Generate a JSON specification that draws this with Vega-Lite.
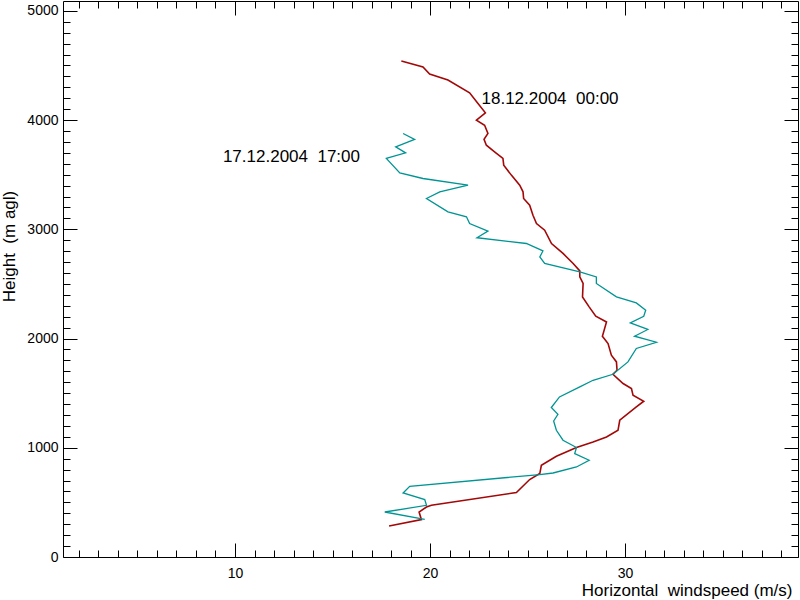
{
  "$schema": "https://vega.github.io/schema/vega-lite/v6.json",
  "width": 735,
  "height": 556,
  "autosize": "none",
  "padding": {"left": 63, "top": 1, "right": 2, "bottom": 43},
  "background": "white",
  "config": {
    "view": {"stroke": "black", "strokeWidth": 1},
    "font": "Liberation Sans",
    "axis": {
      "domain": false,
      "grid": false,
      "tickColor": "black",
      "tickWidth": 1,
      "labelColor": "black",
      "labelFont": "Liberation Sans",
      "labelFontSize": 14,
      "titleFont": "Liberation Sans",
      "titleFontSize": 17,
      "titleFontWeight": "normal",
      "titleColor": "black"
    }
  },
  "datasets": {
    "profiles": [
      {"series": "17.12.2004 17:00", "speed": 19.73, "height": 345},
      {"series": "17.12.2004 17:00", "speed": 17.68, "height": 412},
      {"series": "17.12.2004 17:00", "speed": 19.82, "height": 473},
      {"series": "17.12.2004 17:00", "speed": 19.73, "height": 526},
      {"series": "17.12.2004 17:00", "speed": 18.62, "height": 586},
      {"series": "17.12.2004 17:00", "speed": 18.96, "height": 647},
      {"series": "17.12.2004 17:00", "speed": 25.63, "height": 755},
      {"series": "17.12.2004 17:00", "speed": 26.31, "height": 769},
      {"series": "17.12.2004 17:00", "speed": 27.51, "height": 824},
      {"series": "17.12.2004 17:00", "speed": 28.16, "height": 886},
      {"series": "17.12.2004 17:00", "speed": 27.42, "height": 947},
      {"series": "17.12.2004 17:00", "speed": 27.51, "height": 1002},
      {"series": "17.12.2004 17:00", "speed": 26.82, "height": 1069},
      {"series": "17.12.2004 17:00", "speed": 26.48, "height": 1160},
      {"series": "17.12.2004 17:00", "speed": 26.34, "height": 1245},
      {"series": "17.12.2004 17:00", "speed": 26.56, "height": 1307},
      {"series": "17.12.2004 17:00", "speed": 26.22, "height": 1368},
      {"series": "17.12.2004 17:00", "speed": 26.64, "height": 1465},
      {"series": "17.12.2004 17:00", "speed": 27.68, "height": 1557},
      {"series": "17.12.2004 17:00", "speed": 28.36, "height": 1618},
      {"series": "17.12.2004 17:00", "speed": 29.38, "height": 1673},
      {"series": "17.12.2004 17:00", "speed": 30.15, "height": 1786},
      {"series": "17.12.2004 17:00", "speed": 30.58, "height": 1909},
      {"series": "17.12.2004 17:00", "speed": 31.61, "height": 1966},
      {"series": "17.12.2004 17:00", "speed": 30.49, "height": 2021},
      {"series": "17.12.2004 17:00", "speed": 31.17, "height": 2083},
      {"series": "17.12.2004 17:00", "speed": 30.27, "height": 2143},
      {"series": "17.12.2004 17:00", "speed": 30.96, "height": 2204},
      {"series": "17.12.2004 17:00", "speed": 31.06, "height": 2259},
      {"series": "17.12.2004 17:00", "speed": 30.58, "height": 2326},
      {"series": "17.12.2004 17:00", "speed": 29.56, "height": 2381},
      {"series": "17.12.2004 17:00", "speed": 28.53, "height": 2504},
      {"series": "17.12.2004 17:00", "speed": 28.53, "height": 2564},
      {"series": "17.12.2004 17:00", "speed": 27.68, "height": 2610},
      {"series": "17.12.2004 17:00", "speed": 25.88, "height": 2687},
      {"series": "17.12.2004 17:00", "speed": 25.63, "height": 2747},
      {"series": "17.12.2004 17:00", "speed": 25.79, "height": 2802},
      {"series": "17.12.2004 17:00", "speed": 24.94, "height": 2870},
      {"series": "17.12.2004 17:00", "speed": 22.41, "height": 2923},
      {"series": "17.12.2004 17:00", "speed": 22.97, "height": 2983},
      {"series": "17.12.2004 17:00", "speed": 22.03, "height": 3053},
      {"series": "17.12.2004 17:00", "speed": 21.87, "height": 3114},
      {"series": "17.12.2004 17:00", "speed": 20.92, "height": 3160},
      {"series": "17.12.2004 17:00", "speed": 19.82, "height": 3282},
      {"series": "17.12.2004 17:00", "speed": 20.5, "height": 3343},
      {"series": "17.12.2004 17:00", "speed": 21.95, "height": 3404},
      {"series": "17.12.2004 17:00", "speed": 19.64, "height": 3465},
      {"series": "17.12.2004 17:00", "speed": 18.45, "height": 3517},
      {"series": "17.12.2004 17:00", "speed": 17.76, "height": 3649},
      {"series": "17.12.2004 17:00", "speed": 18.75, "height": 3700},
      {"series": "17.12.2004 17:00", "speed": 18.24, "height": 3755},
      {"series": "17.12.2004 17:00", "speed": 19.21, "height": 3823},
      {"series": "17.12.2004 17:00", "speed": 18.62, "height": 3877},
      {"series": "18.12.2004 00:00", "speed": 17.9, "height": 284},
      {"series": "18.12.2004 00:00", "speed": 19.56, "height": 342},
      {"series": "18.12.2004 00:00", "speed": 19.44, "height": 412},
      {"series": "18.12.2004 00:00", "speed": 19.82, "height": 458},
      {"series": "18.12.2004 00:00", "speed": 20.07, "height": 473},
      {"series": "18.12.2004 00:00", "speed": 24.43, "height": 590},
      {"series": "18.12.2004 00:00", "speed": 25.11, "height": 709},
      {"series": "18.12.2004 00:00", "speed": 25.63, "height": 764},
      {"series": "18.12.2004 00:00", "speed": 25.71, "height": 840},
      {"series": "18.12.2004 00:00", "speed": 26.48, "height": 922},
      {"series": "18.12.2004 00:00", "speed": 27.51, "height": 1002},
      {"series": "18.12.2004 00:00", "speed": 28.36, "height": 1053},
      {"series": "18.12.2004 00:00", "speed": 29.05, "height": 1099},
      {"series": "18.12.2004 00:00", "speed": 29.64, "height": 1160},
      {"series": "18.12.2004 00:00", "speed": 29.73, "height": 1252},
      {"series": "18.12.2004 00:00", "speed": 30.58, "height": 1374},
      {"series": "18.12.2004 00:00", "speed": 30.96, "height": 1426},
      {"series": "18.12.2004 00:00", "speed": 30.41, "height": 1481},
      {"series": "18.12.2004 00:00", "speed": 30.33, "height": 1542},
      {"series": "18.12.2004 00:00", "speed": 29.9, "height": 1588},
      {"series": "18.12.2004 00:00", "speed": 29.38, "height": 1673},
      {"series": "18.12.2004 00:00", "speed": 29.59, "height": 1710},
      {"series": "18.12.2004 00:00", "speed": 29.56, "height": 1786},
      {"series": "18.12.2004 00:00", "speed": 29.3, "height": 1847},
      {"series": "18.12.2004 00:00", "speed": 29.13, "height": 1954},
      {"series": "18.12.2004 00:00", "speed": 28.84, "height": 2021},
      {"series": "18.12.2004 00:00", "speed": 29.05, "height": 2152},
      {"series": "18.12.2004 00:00", "speed": 28.5, "height": 2204},
      {"series": "18.12.2004 00:00", "speed": 28.16, "height": 2290},
      {"series": "18.12.2004 00:00", "speed": 27.82, "height": 2381},
      {"series": "18.12.2004 00:00", "speed": 27.85, "height": 2504},
      {"series": "18.12.2004 00:00", "speed": 27.68, "height": 2564},
      {"series": "18.12.2004 00:00", "speed": 27.68, "height": 2619},
      {"series": "18.12.2004 00:00", "speed": 27.34, "height": 2687},
      {"series": "18.12.2004 00:00", "speed": 26.82, "height": 2779},
      {"series": "18.12.2004 00:00", "speed": 26.23, "height": 2870},
      {"series": "18.12.2004 00:00", "speed": 25.88, "height": 2992},
      {"series": "18.12.2004 00:00", "speed": 25.46, "height": 3053},
      {"series": "18.12.2004 00:00", "speed": 25.28, "height": 3129},
      {"series": "18.12.2004 00:00", "speed": 25.11, "height": 3221},
      {"series": "18.12.2004 00:00", "speed": 24.8, "height": 3282},
      {"series": "18.12.2004 00:00", "speed": 24.77, "height": 3343},
      {"series": "18.12.2004 00:00", "speed": 24.6, "height": 3404},
      {"series": "18.12.2004 00:00", "speed": 24.17, "height": 3496},
      {"series": "18.12.2004 00:00", "speed": 23.78, "height": 3587},
      {"series": "18.12.2004 00:00", "speed": 23.74, "height": 3649},
      {"series": "18.12.2004 00:00", "speed": 23.31, "height": 3709},
      {"series": "18.12.2004 00:00", "speed": 22.89, "height": 3770},
      {"series": "18.12.2004 00:00", "speed": 22.77, "height": 3823},
      {"series": "18.12.2004 00:00", "speed": 22.97, "height": 3877},
      {"series": "18.12.2004 00:00", "speed": 22.8, "height": 3953},
      {"series": "18.12.2004 00:00", "speed": 22.38, "height": 3999},
      {"series": "18.12.2004 00:00", "speed": 22.84, "height": 4066},
      {"series": "18.12.2004 00:00", "speed": 22.46, "height": 4152},
      {"series": "18.12.2004 00:00", "speed": 22.03, "height": 4249},
      {"series": "18.12.2004 00:00", "speed": 20.92, "height": 4366},
      {"series": "18.12.2004 00:00", "speed": 19.98, "height": 4421},
      {"series": "18.12.2004 00:00", "speed": 19.64, "height": 4487},
      {"series": "18.12.2004 00:00", "speed": 18.53, "height": 4540}
    ],
    "labels": [
      {"label": "18.12.2004 \u00a000:00", "speed": 22.64, "height": 4189},
      {"label": "17.12.2004 \u00a017:00", "speed": 9.38, "height": 3658}
    ]
  },
  "layer": [
    {
      "data": {"name": "profiles"},
      "transform": [{"filter": "datum.series === '18.12.2004 00:00'"}],
      "mark": {"type": "line", "color": "#a30808", "strokeWidth": 1.6},
      "encoding": {
        "x": {
          "field": "speed", "type": "quantitative",
          "scale": {"domain": [1.18, 38.87], "nice": false, "zero": false},
          "axis": {
            "orient": "bottom", "values": [10, 20, 30], "tickSize": -14, "format": "d",
            "labelPadding": 23, "labelFlush": false,
            "title": "Horizontal \u00a0windspeed (m/s)",
            "titleX": 729, "titleY": 33, "titleAlign": "right", "titleBaseline": "middle", "titleAnchor": null
          }
        },
        "y": {
          "field": "height", "type": "quantitative",
          "scale": {"domain": [0, 5090], "nice": false, "zero": false},
          "axis": {
            "orient": "left", "values": [0, 1000, 2000, 3000, 4000, 5000], "tickSize": -14, "format": "d",
            "labelPadding": 19, "labelFlush": false,
            "title": "Height \u00a0(m agl)",
            "titleX": -54, "titleY": 245, "titleAngle": -90, "titleAlign": "center", "titleBaseline": "middle", "titleAnchor": null
          }
        },
        "order": {"field": "height", "type": "quantitative"}
      }
    },
    {
      "data": {"name": "profiles"},
      "transform": [{"filter": "datum.series === '17.12.2004 17:00'"}],
      "mark": {"type": "line", "color": "#009494", "strokeWidth": 1.3},
      "encoding": {
        "x": {
          "field": "speed", "type": "quantitative",
          "axis": {
            "orient": "bottom",
            "values": [2,3,4,5,6,7,8,9,11,12,13,14,15,16,17,18,19,21,22,23,24,25,26,27,28,29,31,32,33,34,35,36,37,38],
            "tickSize": -7, "labels": false, "title": null
          }
        },
        "y": {
          "field": "height", "type": "quantitative",
          "axis": {
            "orient": "left",
            "values": [100,200,300,400,500,600,700,800,900,1100,1200,1300,1400,1500,1600,1700,1800,1900,2100,2200,2300,2400,2500,2600,2700,2800,2900,3100,3200,3300,3400,3500,3600,3700,3800,3900,4100,4200,4300,4400,4500,4600,4700,4800,4900,5000],
            "tickSize": -7, "labels": false, "title": null
          }
        },
        "order": {"field": "height", "type": "quantitative"}
      }
    },
    {
      "data": {"name": "labels"},
      "mark": {"type": "text", "align": "left", "baseline": "middle", "fontSize": 17, "font": "Liberation Sans", "color": "black"},
      "encoding": {
        "x": {
          "field": "speed", "type": "quantitative",
          "axis": {"orient": "top", "values": [10, 20, 30], "tickSize": -14, "labels": false, "title": null}
        },
        "y": {
          "field": "height", "type": "quantitative",
          "axis": {"orient": "right", "values": [0, 1000, 2000, 3000, 4000, 5000], "tickSize": -14, "labels": false, "title": null}
        },
        "text": {"field": "label"}
      }
    },
    {
      "data": {"name": "labels"},
      "mark": {"type": "point", "opacity": 0},
      "encoding": {
        "x": {
          "field": "speed", "type": "quantitative",
          "axis": {
            "orient": "top",
            "values": [2,3,4,5,6,7,8,9,11,12,13,14,15,16,17,18,19,21,22,23,24,25,26,27,28,29,31,32,33,34,35,36,37,38],
            "tickSize": -7, "labels": false, "title": null
          }
        },
        "y": {
          "field": "height", "type": "quantitative",
          "axis": {
            "orient": "right",
            "values": [100,200,300,400,500,600,700,800,900,1100,1200,1300,1400,1500,1600,1700,1800,1900,2100,2200,2300,2400,2500,2600,2700,2800,2900,3100,3200,3300,3400,3500,3600,3700,3800,3900,4100,4200,4300,4400,4500,4600,4700,4800,4900,5000],
            "tickSize": -7, "labels": false, "title": null
          }
        }
      }
    }
  ],
  "resolve": {"axis": {"x": "independent", "y": "independent"}}
}
